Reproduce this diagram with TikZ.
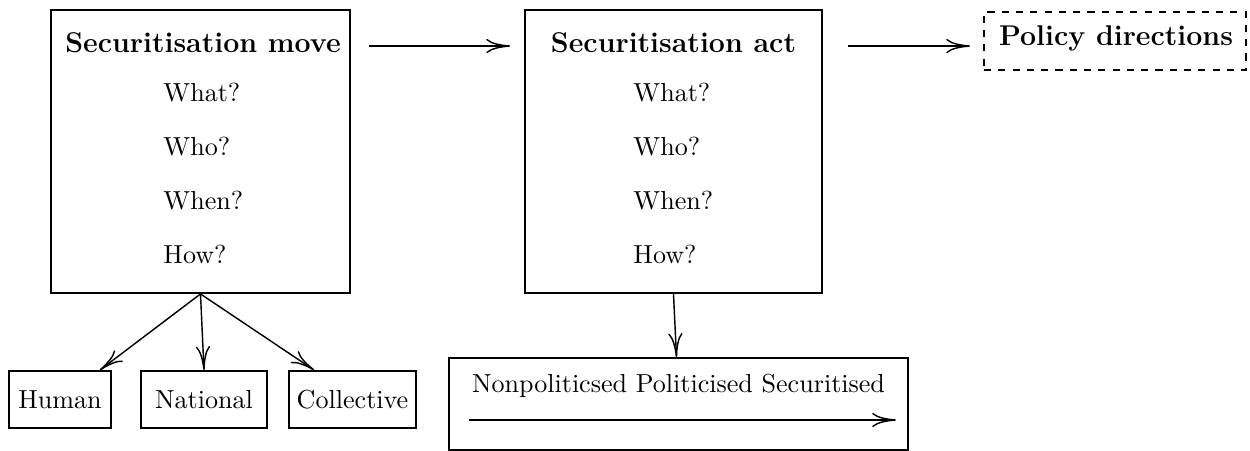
\documentclass[tikz,border=0pt]{standalone}
\usetikzlibrary{calc,arrows.meta}
\begin{document}
\begin{tikzpicture}[x=0.42pt,y=-0.42pt,
  box/.style={draw, line width=0.8pt, inner sep=0pt, rectangle},
  txt/.style={font=\fontsize{10.95}{13}\selectfont, inner sep=0pt},
  ttl/.style={font=\fontsize{12}{14}\selectfont\bfseries, inner sep=0pt},
  arr/.style={-{Computer Modern Rightarrow[length=10pt,width=6pt]}, line width=0.6pt}]
\useasboundingbox (0,0) rectangle (1250,451);
% Securitisation move
\node[box, minimum width=299*0.42pt, minimum height=283*0.42pt] (move) at (200.5,151.5) {};
\node[ttl, anchor=base] (movet) at (203,53) {Securitisation move};
\node[txt, anchor=base west] (m1) at (163,102) {What?};
\node[txt, anchor=base west] (m2) at (163,156) {Who?};
\node[txt, anchor=base west] (m3) at (163,210) {When?};
\node[txt, anchor=base west] (m4) at (163,264) {How?};
% Securitisation act
\node[box, minimum width=297*0.42pt, minimum height=283*0.42pt] (act) at (673.5,151.5) {};
\node[ttl, anchor=base] (actt) at (673.5,53) {Securitisation act};
\node[txt, anchor=base west] (a1) at (633,102) {What?};
\node[txt, anchor=base west] (a2) at (633,156) {Who?};
\node[txt, anchor=base west] (a3) at (633,210) {When?};
\node[txt, anchor=base west] (a4) at (633,264) {How?};
% Policy directions
\node[box, dashed, minimum width=262*0.42pt, minimum height=58*0.42pt] (pol) at (1115,41) {};
\node[ttl, anchor=base] (polt) at (1116,46) {Policy directions};
% bottom boxes
\node[box, txt, minimum width=102*0.42pt, minimum height=57*0.42pt] (hum) at (60,399.5) {Human};
\node[box, txt, minimum width=126*0.42pt, minimum height=57*0.42pt] (nat) at (204,399.5) {National};
\node[box, txt, minimum width=127*0.42pt, minimum height=57*0.42pt] (col) at (352.5,399.5) {Collective};
% spectrum box
\node[box, minimum width=459*0.42pt, minimum height=92*0.42pt] (nps) at (678.5,404) {};
\node[txt, anchor=base] (npst) at (678.5,393) {Nonpoliticsed Politicised Securitised};
\coordinate (sl) at ($(nps.west)+(21,16)$);
\coordinate (sr) at ($(nps.east)+(-13,16)$);
% connectors
\draw[arr] ($(move.north east)+(18,37)$) -- ($(act.north west)+(-14,37)$);
\draw[arr] ($(act.north east)+(25,37)$) -- ($(pol.north west)+(-13,35)$);
\draw[arr] (move.south) -- ($(hum.north east)+(-12,0)$);
\draw[arr] (move.south) -- (nat.north);
\draw[arr] (move.south) -- ($(col.north west)+(26,0)$);
\draw[arr] (act.south) -- ($(nps.north)+(-2,0)$);
\draw[arr] (sl) -- (sr);
\end{tikzpicture}
\end{document}
